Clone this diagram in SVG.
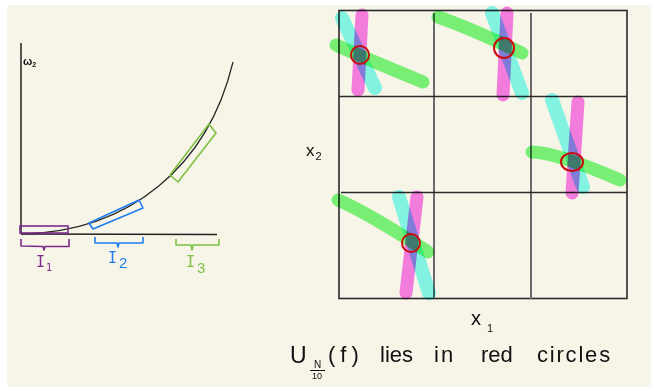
<svg xmlns="http://www.w3.org/2000/svg" width="651" height="387" viewBox="0 0 651 387">
<style>
.hand{font-family:"Liberation Sans","DejaVu Sans",sans-serif;fill:#111}
.mono{font-family:"DejaVu Sans Mono","Liberation Mono",monospace}
.ax{stroke:#222;stroke-width:1.5;fill:none}
.grid{stroke:#2a2a2a;stroke-width:1.6;fill:none}
.gridv{stroke:#6a6a6a;stroke-width:2;fill:none}
.st{fill:none;stroke-width:13;stroke-linecap:round;mix-blend-mode:multiply}
.pk{stroke:#fa82f2}
.cy{stroke:#86fdf8;stroke-width:14}
.gr{stroke:#7cfa80}
.rc{fill:none;stroke:#cc0a0e;stroke-width:2}
</style>
<rect x="0" y="0" width="651" height="387" fill="#ffffff"/>
<rect x="7" y="5" width="644" height="382" fill="#f7f4e8"/>

<g id="chart">
  <path class="ax" d="M21,43 L21,234"/>
  <path class="ax" d="M21,234 L217,234.5"/>
  <path d="M21,234 C130,232 208,166 233,62" fill="none" stroke="#222" stroke-width="1.2"/>
  <text class="hand" x="23" y="65" font-size="11" font-weight="bold" font-family="DejaVu Sans">ω<tspan font-size="7" dy="2">2</tspan></text>
</g>

<g id="interval-1">
  <rect x="20" y="226" width="48" height="7" fill="none" stroke="#7d2b8b" stroke-width="1.6"/>
  <path d="M21,239 L21,246 L43,246.5 L44,250 L45,246.5 L69,246.5 L69,239" fill="none" stroke="#7d2b8b" stroke-width="1.6" stroke-linejoin="round"/>
  <text class="mono" x="36" y="267" font-size="15" fill="#7d2b8b">I<tspan font-size="10" dy="4" dx="1">1</tspan></text>
</g>

<g id="interval-2">
  <path d="M89,223 L139,200 L143,208 L93,229 Z" fill="none" stroke="#1e7ef0" stroke-width="1.6" stroke-linejoin="round"/>
  <path d="M95,237 L95,243 L117,243 L118,247 L119,243 L143,243 L143,237" fill="none" stroke="#1e7ef0" stroke-width="1.6" stroke-linejoin="round"/>
  <text class="mono" x="108" y="263" font-size="15" fill="#1e7ef0">I<tspan font-family="Liberation Sans" font-size="15" dy="5" dx="2">2</tspan></text>
</g>

<g id="interval-3">
  <path d="M209,124 L216,133 L178,182 L170,175 Z" fill="none" stroke="#7dc242" stroke-width="1.6" stroke-linejoin="round"/>
  <path d="M176,239 L176,245 L191,245 L192,250 L193,245 L219,245 L219,239" fill="none" stroke="#7dc242" stroke-width="1.6" stroke-linejoin="round"/>
  <text class="mono" x="186" y="267" font-size="15" fill="#7dc242">I<tspan font-family="Liberation Sans" font-size="15" dy="6" dx="2">3</tspan></text>
</g>

<g id="grid">
  <rect class="grid" x="339" y="10.5" width="288" height="288"/>
  <path class="gridv" d="M434,13 L434,298 M531,13 L531,299"/>
  <path class="grid" d="M339,96.5 L627,96.5 M341,192.5 L627,192.5"/>
</g>

<g id="strokes">
  <g id="cell-1-1">
    <path class="st pk" d="M362,15 L358,90"/>
    <path class="st cy" d="M342,18 L375,88"/>
    <path class="st gr" d="M336,45 Q360,56 423,82"/>
    <circle class="rc" cx="360" cy="55" r="9"/>
  </g>
  <g id="cell-1-2">
    <path class="st pk" d="M507,13 L503,95"/>
    <path class="st cy" d="M492,13 L522,93"/>
    <path class="st gr" d="M438,17 Q470,28 522,53"/>
    <circle class="rc" cx="504" cy="48" r="10"/>
  </g>
  <g id="cell-2-3">
    <path class="st pk" d="M578,102 L572,193"/>
    <path class="st cy" d="M552,100 L583,187"/>
    <path class="st gr" d="M532,152 Q555,152 620,180"/>
    <ellipse class="rc" cx="572" cy="162" rx="11" ry="9"/>
  </g>
  <g id="cell-3-1">
    <path class="st pk" d="M417,197 L406,293"/>
    <path class="st cy" d="M399,197 L429,293"/>
    <path class="st gr" d="M338,200 Q370,214 428,252"/>
    <circle class="rc" cx="411" cy="243" r="9"/>
  </g>
</g>

<g id="labels">
  <text class="hand" x="306" y="156" font-size="17">x<tspan font-size="11" dy="4" dx="1">2</tspan></text>
  <text class="hand" x="471" y="325" font-size="20">x<tspan font-size="11" dy="7" dx="6">1</tspan></text>
  <text class="hand" x="290" y="363" font-size="23">U</text>
  <text class="hand" x="314" y="368" font-size="10">N</text>
  <line x1="310" y1="370.5" x2="325" y2="370.5" stroke="#111" stroke-width="1"/>
  <text class="hand" x="312" y="379" font-size="9">10</text>
  <text class="hand" y="362" font-size="22"><tspan x="328" letter-spacing="5">(f)</tspan><tspan x="380">lies</tspan><tspan x="434" letter-spacing="2">in</tspan><tspan x="481">red</tspan><tspan x="537" letter-spacing="1.8">circles</tspan></text>
</g>
</svg>
